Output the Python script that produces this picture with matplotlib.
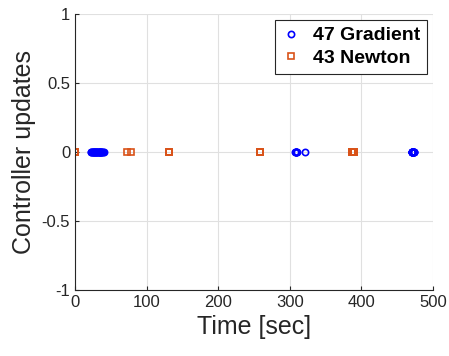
import numpy as np
import matplotlib.pyplot as plt

plt.rcParams['font.family'] = ['Liberation Sans', 'DejaVu Sans']

# update times [sec] (all at y = 0)
gradient_times = [22, 24, 25, 26, 27, 28, 29, 30, 31, 32, 33, 34, 35, 36, 37, 38, 39, 40,
                  23, 25, 27, 29, 31, 33, 35, 37,
                  307, 308, 309, 310, 308, 309, 321,
                  470, 471, 472, 473, 471, 472, 470, 473, 472, 471, 470, 472, 471, 473]
newton_times = [0, 0, 0, 0, 0, 0, 0, 0, 0, 0, 0, 0, 0, 0, 0, 0, 0, 0, 0, 0,
                72, 78, 131, 131, 131, 258, 258, 258, 258,
                387, 388, 389, 388, 387, 389, 388, 387, 389, 388, 387, 389, 388, 388]
gradient_label = '%d Gradient' % len(gradient_times)
newton_label = '%d Newton' % len(newton_times)

fig = plt.figure(figsize=(4.49, 3.56), dpi=100)
ax = fig.add_axes([75 / 449, 66 / 356, 358 / 449, 276 / 356])

ax.plot(gradient_times, np.zeros(len(gradient_times)), 'o', color='#0000ff',
        mfc='none', ms=4.5, mew=1.2, label=gradient_label)
ax.plot(newton_times, np.zeros(len(newton_times)), 's', color='#d95319',
        mfc='none', ms=3.8, mew=1.2, label=newton_label)

ax.set_xlim(0, 500)
ax.set_ylim(-1, 1)
ax.set_xticks([0, 100, 200, 300, 400, 500])
ax.set_yticks([-1, -0.5, 0, 0.5, 1])
ax.set_yticklabels(['-1', '-0.5', '0', '0.5', '1'])
ax.grid(True, color='#e0e0e0', linewidth=0.8)
ax.set_axisbelow(True)
for s in ['top', 'right']:
    ax.spines[s].set_visible(False)
for s in ['left', 'bottom']:
    ax.spines[s].set_color('#262626')
    ax.spines[s].set_linewidth(0.8)
ax.tick_params(direction='in', length=3, labelsize=12, colors='#262626')
ax.set_xlabel('Time [sec]', fontsize=18, color='#262626')
ax.set_ylabel('Controller updates', fontsize=18, color='#262626')

leg = ax.legend(loc='upper right', prop={'weight': 'bold', 'size': 14},
                fancybox=False, framealpha=1, edgecolor='#262626',
                handlelength=1.0, handletextpad=0.6, borderpad=0.35,
                labelspacing=0.25, borderaxespad=0,
                bbox_to_anchor=(0.983, 0.978))
leg.get_frame().set_linewidth(0.8)

fig.savefig('out.png', dpi=100)
